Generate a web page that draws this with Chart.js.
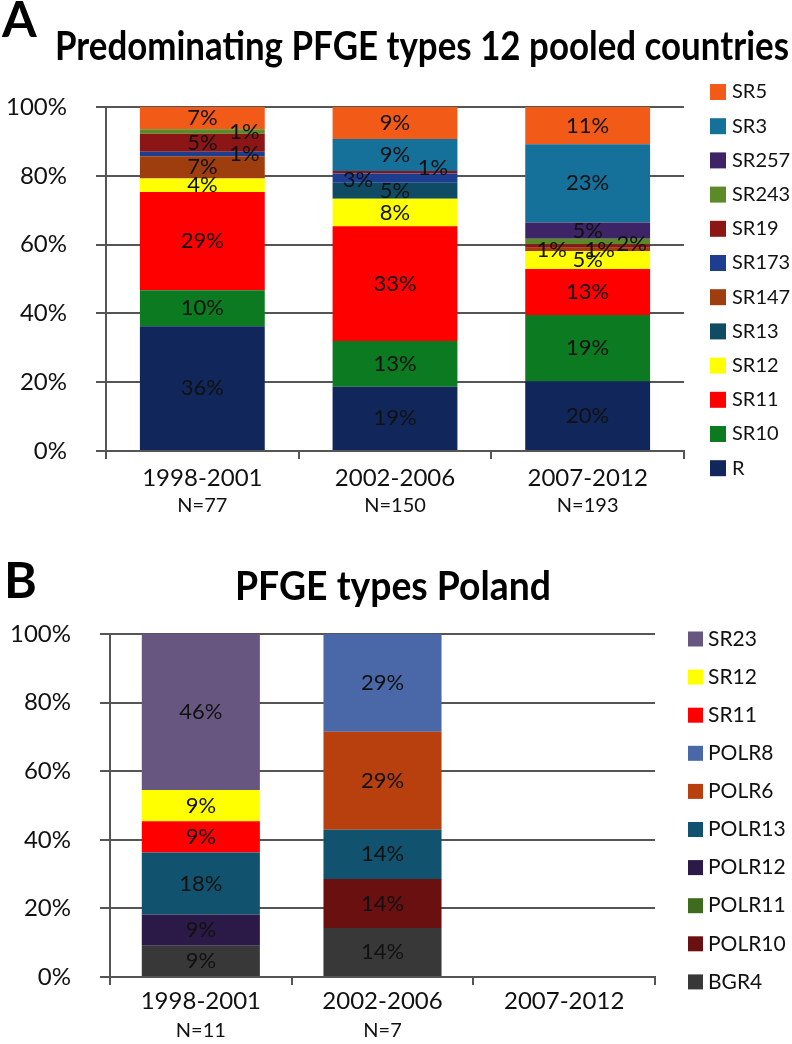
<!DOCTYPE html>
<html>
<head>
<meta charset="utf-8">
<script src="https://cdn.jsdelivr.net/npm/chart.js@4"></script>
<style>
  html, body { margin: 0; padding: 0; background: #fff; }
  #wrap { position: relative; width: 792px; height: 1044px; overflow: hidden; }
  canvas { position: absolute; left: 0; }
  #chartA { top: 0; }
  #chartB { top: 520px; }
</style>
</head>
<body>
<div id="wrap">
  <canvas id="chartA" width="792" height="520"></canvas>
  <canvas id="chartB" width="792" height="524"></canvas>
</div>
<script>
// panel A - 12 pooled countries
const periodsA = ['1998-2001', '2002-2006', '2007-2012'];
const countsA = ['N=77', 'N=150', 'N=193'];
const typesA = ['R', 'SR10', 'SR11', 'SR12', 'SR13', 'SR147', 'SR173', 'SR19', 'SR243', 'SR257', 'SR3', 'SR5'];
const colorsA = ['#11265a', '#0b7a20', '#ff0000', '#ffff00', '#0f4c63', '#9e3d0e', '#1d3d8f', '#8c1616', '#5b8a26', '#3d2466', '#15709a', '#f25a17'];
const a1998 = [36.3, 10.4, 28.6, 3.9, 0, 6.5, 1.3, 5.2, 1.3, 0, 0, 6.5];
const a2002 = [18.7, 13.3, 33.3, 8.0, 4.7, 0, 2.7, 0.7, 0, 0, 9.3, 9.3];
const a2007 = [20.3, 19.2, 13.4, 5.2, 0, 1.0, 0, 1.0, 1.6, 4.7, 22.8, 10.8];

// panel B - Poland
const periodsB = ['1998-2001', '2002-2006', '2007-2012'];
const countsB = ['N=11', 'N=7', ''];
const typesB = ['BGR4', 'POLR10', 'POLR11', 'POLR12', 'POLR13', 'POLR6', 'POLR8', 'SR11', 'SR12', 'SR23'];
const colorsB = ['#383838', '#6a1010', '#3e6b1e', '#2b1a48', '#11536e', '#b8400f', '#4a67a8', '#ff0000', '#ffff00', '#67567f'];
const b1998 = [9.1, 0, 0, 9.1, 18.1, 0, 0, 9.1, 9.1, 45.5];
const b2002 = [14.3, 14.3, 0, 0, 14.3, 28.6, 28.5, 0, 0, 0];
const b2007 = [0, 0, 0, 0, 0, 0, 0, 0, 0, 0];

Chart.defaults.font.family = 'Lato';
Chart.defaults.color = '#111';

const valueLabels = {
  id: 'valueLabels',
  afterDatasetsDraw(chart, args, opts) {
    const { ctx } = chart;
    const offsets = opts.offsets || {};
    ctx.save();
    ctx.font = opts.font;
    ctx.fillStyle = '#111';
    ctx.textAlign = 'center';
    ctx.textBaseline = 'middle';
    chart.data.datasets.forEach((ds, i) => {
      chart.getDatasetMeta(i).data.forEach((bar, j) => {
        const v = ds.data[j];
        if (!v) return;
        const off = offsets[ds.label + '@' + j] || [0, 0];
        ctx.fillText(Math.round(v) + '%', bar.x + off[0], (bar.y + bar.base) / 2 + off[1]);
      });
    });
    ctx.restore();
  }
};

const sideLegend = {
  id: 'sideLegend',
  afterDraw(chart, args, opts) {
    const { ctx } = chart;
    const items = chart.data.datasets.slice().reverse();
    ctx.save();
    ctx.font = opts.font;
    ctx.textAlign = 'left';
    ctx.textBaseline = 'middle';
    items.forEach((ds, i) => {
      const y = opts.top + i * opts.step;
      ctx.fillStyle = ds.backgroundColor;
      ctx.fillRect(opts.x, y - opts.box / 2, opts.box, opts.box);
      ctx.fillStyle = '#111';
      ctx.fillText(ds.label, opts.x + opts.box + opts.gap, y);
    });
    ctx.restore();
  }
};

const panelTitle = {
  id: 'panelTitle',
  afterDraw(chart, args, opts) {
    const { ctx } = chart;
    ctx.save();
    ctx.fillStyle = '#000';
    ctx.textBaseline = 'alphabetic';
    ctx.textAlign = 'left';
    ctx.font = 'bold 50px Lato';
    ctx.fillText(opts.letter, opts.letterX, opts.letterY);
    ctx.font = opts.font;
    ctx.textAlign = 'center';
    ctx.fillText(opts.text, opts.x, opts.y, opts.maxWidth);
    ctx.restore();
  }
};

function buildDatasets(types, colors, rows) {
  return types.map((t, i) => ({
    label: t,
    data: rows.map(r => r[i]),
    backgroundColor: colors[i],
    borderWidth: 0
  }));
}

function makeChart(id, periods, counts, datasets, cfg) {
  return new Chart(document.getElementById(id).getContext('2d'), {
    type: 'bar',
    data: { labels: periods, datasets: datasets },
    options: {
      responsive: false,
      animation: false,
      layout: { padding: { top: cfg.top, right: cfg.right, bottom: 0, left: 0 } },
      datasets: { bar: { categoryPercentage: 1, barPercentage: cfg.barPct } },
      plugins: {
        legend: { display: false },
        tooltip: { enabled: false },
        valueLabels: { font: cfg.labelFont, offsets: cfg.offsets },
        sideLegend: cfg.legend,
        panelTitle: cfg.title
      },
      scales: {
        x: {
          stacked: true,
          weight: 0,
          grid: { drawOnChartArea: false, drawTicks: true, tickLength: 8, color: '#555', lineWidth: 2 },
          border: { color: '#555', width: 2 },
          ticks: { font: { size: 24 }, padding: cfg.xPad },
          afterFit(s) { s.height = cfg.xHeight; }
        },
        x2: {
          type: 'category',
          labels: counts,
          position: 'bottom',
          offset: true,
          weight: 1,
          grid: { display: false, drawTicks: false },
          border: { display: false },
          ticks: { font: { size: 20 }, padding: cfg.nPad },
          afterFit(s) { s.height = cfg.nHeight; }
        },
        y: {
          stacked: true,
          min: 0,
          max: 100,
          grid: { color: '#555', lineWidth: 2, tickLength: 10 },
          border: { color: '#555', width: 2 },
          ticks: { stepSize: 20, font: { size: 24 }, padding: 29, callback: v => v + '%' },
          afterFit(s) { s.width = cfg.yWidth; }
        }
      }
    },
    plugins: [valueLabels, sideLegend, panelTitle]
  });
}

const chartA = makeChart('chartA', periodsA, countsA,
  buildDatasets(typesA, colorsA, [a1998, a2002, a2007]), {
    top: 107, right: 108, barPct: 0.648, yWidth: 106,
    xHeight: 40, xPad: 5, nHeight: 29, nPad: 3,
    labelFont: '22px Lato',
    offsets: {
      'SR243@0': [42, 0], 'SR173@0': [42, 0],
      'SR173@1': [-37, 2], 'SR19@1': [38, -4],
      'SR147@2': [-36, 0], 'SR19@2': [12, 4], 'SR243@2': [44, 2]
    },
    legend: { x: 710, top: 92, step: 34.2, box: 16, gap: 6, font: '20px Lato' },
    title: { letter: 'A', letterX: 2, letterY: 37, text: 'Predominating PFGE types 12 pooled countries',
             x: 422, y: 60, maxWidth: 734, font: 'bold 40px Lato' }
  });

const chartB = makeChart('chartB', periodsB, countsB,
  buildDatasets(typesB, colorsB, [b1998, b2002, b2007]), {
    top: 114, right: 137, barPct: 0.65, yWidth: 110,
    xHeight: 40, xPad: 2, nHeight: 27, nPad: 2,
    labelFont: '22px Lato',
    offsets: {},
    legend: { x: 688, top: 119, step: 38.1, box: 15, gap: 5, font: '21px Lato' },
    title: { letter: 'B', letterX: 4, letterY: 78, text: 'PFGE types Poland',
             x: 393, y: 80, maxWidth: 316, font: 'bold 40px Lato' }
  });
</script>
</body>
</html>
